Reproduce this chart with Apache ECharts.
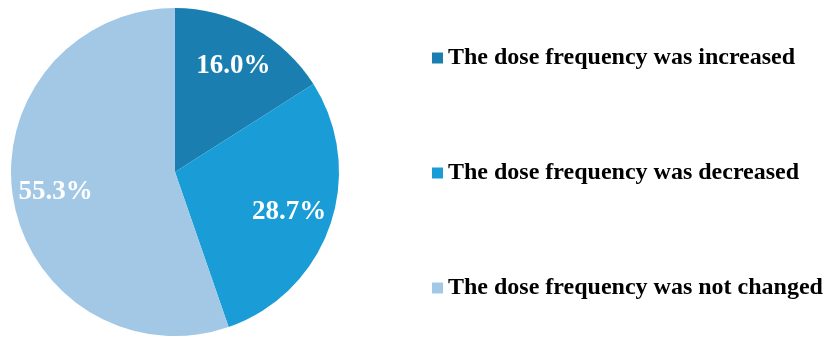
<!DOCTYPE html>
<html>
<head>
<meta charset="utf-8">
<script src="https://cdn.jsdelivr.net/npm/echarts@6/dist/echarts.min.js"></script>
<style>
html, body { margin: 0; padding: 0; background: #fff; }
#container { width: 826px; height: 340px; }
</style>
</head>
<body>
<div id="container"></div>
<script>
var dom = document.getElementById("container");
var myChart = echarts.init(dom);

// 类别与占比
var categories = [
    'The dose frequency was increased',
    'The dose frequency was decreased',
    'The dose frequency was not changed'
];
var percents = [16.0, 28.7, 55.3];
var colors = ['#1a7fb0', '#1a9dd6', '#a2c8e6'];

var pieData = [];
for (var i = 0; i < categories.length; i++) {
    pieData.push({
        name: categories[i],
        value: percents[i],
        itemStyle: { color: colors[i] }
    });
}

// 标签层：透明环，让百分比落在更外侧
var labelData = [];
for (var j = 0; j < categories.length; j++) {
    labelData.push({ name: categories[j], value: percents[j] });
}

var option = {
    backgroundColor: '#fff',
    animation: false,
    legend: {
        orient: 'vertical',
        left: 427,
        top: 41,
        itemWidth: 11,
        itemHeight: 11,
        itemGap: 91,
        icon: 'rect',
        data: categories,
        textStyle: {
            fontFamily: 'Liberation Serif',
            fontWeight: 'bold',
            fontSize: 24,
            lineHeight: 24,
            color: '#000'
        }
    },
    series: [
        {
            type: 'pie',
            center: [175, 172],
            radius: [0, 164],
            startAngle: 90,
            clockwise: true,
            silent: true,
            label: { show: false },
            labelLine: { show: false },
            itemStyle: { borderWidth: 0 },
            data: pieData
        },
        {
            type: 'pie',
            center: [175, 172],
            radius: [72, 164],
            startAngle: 90,
            clockwise: true,
            silent: true,
            itemStyle: { color: 'rgba(0,0,0,0)', borderWidth: 0 },
            label: {
                show: true,
                position: 'inside',
                formatter: function (p) {
                    return p.value.toFixed(1) + '%';
                },
                fontFamily: 'Liberation Serif',
                fontWeight: 'bold',
                fontSize: 27,
                color: '#fff'
            },
            labelLine: { show: false },
            data: labelData
        }
    ]
};

myChart.setOption(option, true);
</script>
</body>
</html>
